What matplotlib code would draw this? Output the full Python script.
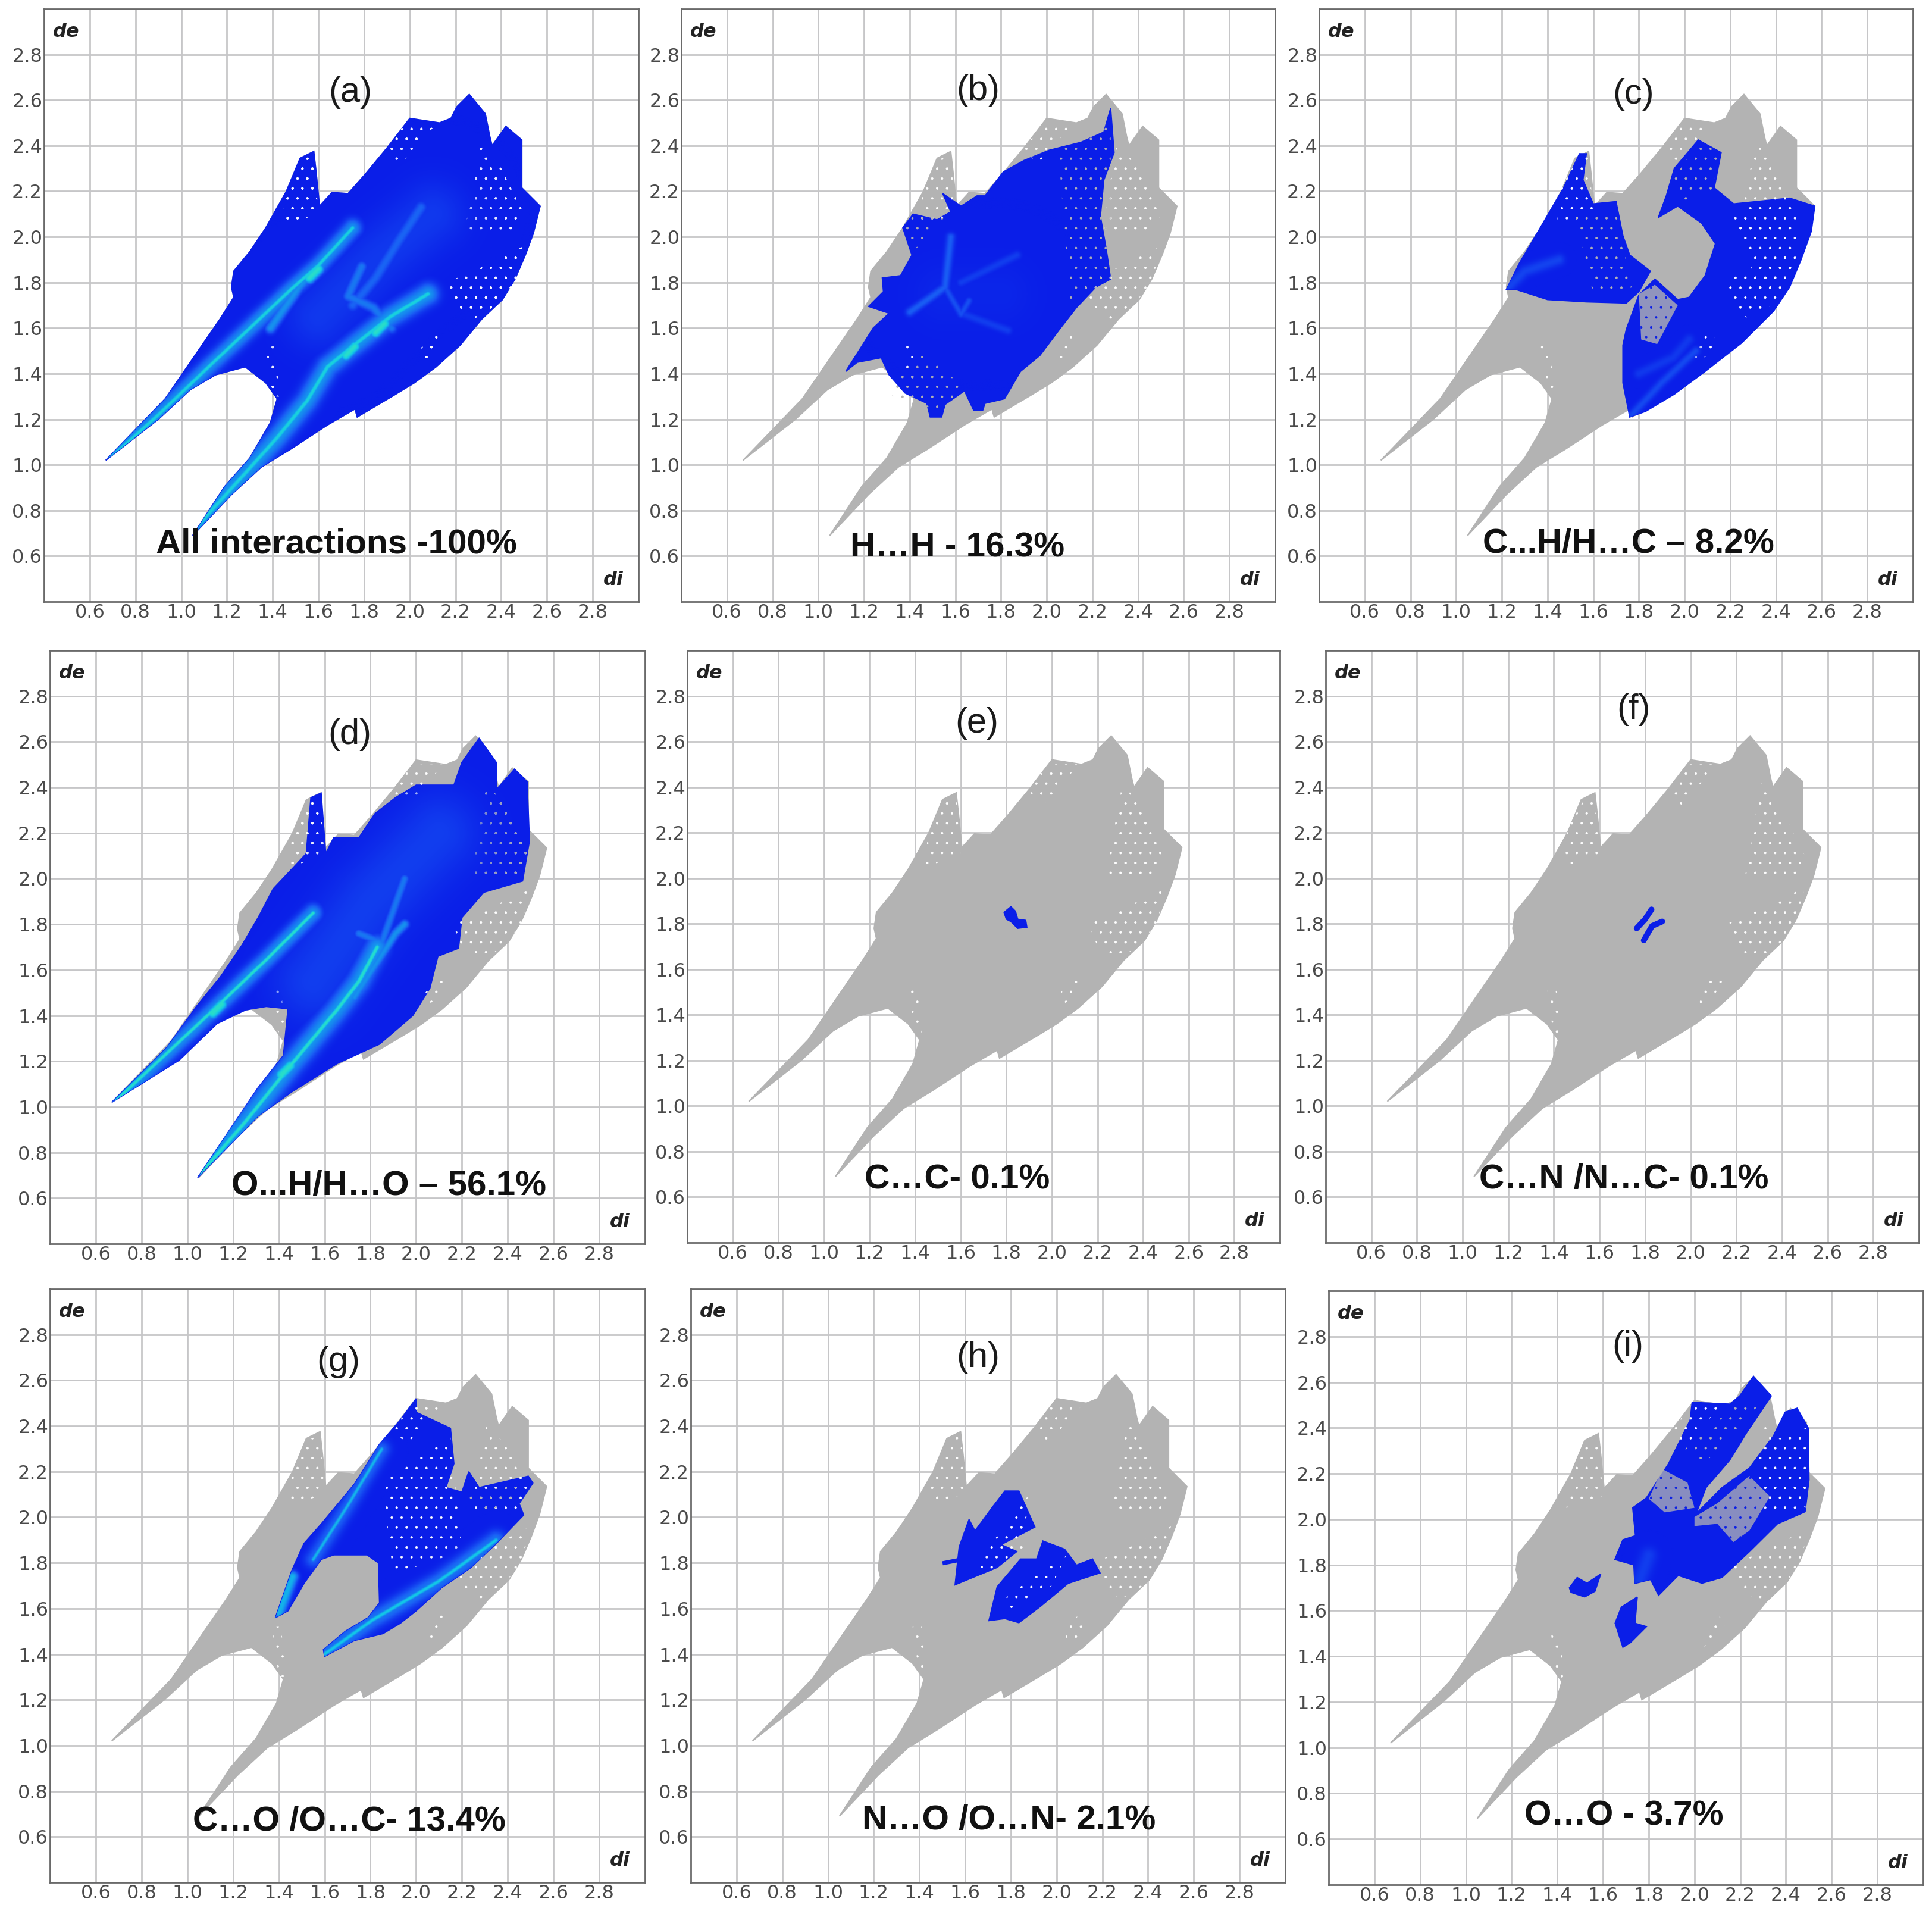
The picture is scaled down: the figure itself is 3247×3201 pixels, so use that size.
"""Hirshfeld fingerprint plots (di vs de) for nine contact types, writes out.png."""

from __future__ import annotations

import matplotlib

matplotlib.use("Agg")
import matplotlib.pyplot as plt  # noqa: E402
import numpy as np  # noqa: E402
from matplotlib.colors import LinearSegmentedColormap  # noqa: E402
from matplotlib.patches import Polygon  # noqa: E402

WIDTH, HEIGHT = 3247, 3201
TICKS = [0.6, 0.8, 1.0, 1.2, 1.4, 1.6, 1.8, 2.0, 2.2, 2.4, 2.6, 2.8]

GREY = "#b3b3b3"
BLUE = "#0a1ee8"
HEAT = LinearSegmentedColormap.from_list("heat", ["#0a1ee8", "#1a5cf5", "#12c8e8", "#3cf0b0"])

# full fingerprint outline
OUTLINE_X = [0.67, 0.93, 1.06, 1.17, 1.23, 1.22, 1.23, 1.30, 1.37, 1.46, 1.52, 1.58, 1.59, 1.605,
             1.66, 1.73, 1.805, 1.90, 2.00, 2.13, 2.18, 2.205, 2.26, 2.33, 2.35, 2.36, 2.42, 2.49,
             2.49, 2.57, 2.54, 2.505, 2.46, 2.405, 2.315, 2.22, 2.115, 2.02, 1.93, 1.77, 1.76,
             1.64, 1.48, 1.35, 1.22, 1.05, 1.19, 1.30, 1.39, 1.42, 1.37, 1.28, 1.15, 1.04, 0.90]
OUTLINE_Y = [1.02, 1.29, 1.48, 1.64, 1.735, 1.78, 1.85, 1.935, 2.04, 2.20, 2.345, 2.375, 2.285, 2.135,
             2.195, 2.19, 2.275, 2.39, 2.52, 2.50, 2.52, 2.57, 2.625, 2.54, 2.44, 2.40, 2.485, 2.425,
             2.215, 2.135, 2.015, 1.92, 1.815, 1.725, 1.64, 1.525, 1.43, 1.36, 1.305, 1.21, 1.245,
             1.175, 1.07, 0.99, 0.87, 0.69, 0.905, 1.03, 1.185, 1.29, 1.36, 1.43, 1.395, 1.33, 1.20]

# thinly populated parts of the fingerprint
SPARSE_WING = ([1.44, 1.46, 1.53, 1.58, 1.60], [2.05, 2.22, 2.34, 2.36, 2.10])
SPARSE_RIGHT = ([2.24, 2.27, 2.31, 2.40, 2.50, 2.46, 2.35], [2.02, 2.20, 2.42, 2.30, 2.10, 2.02, 2.02])
SPARSE_EDGE = ([2.16, 2.30, 2.50, 2.46, 2.38, 2.28, 2.20], [1.80, 1.86, 1.96, 1.80, 1.70, 1.64, 1.70])
SPARSE_TOP = ([1.90, 1.98, 2.12, 2.03, 1.96], [2.38, 2.50, 2.50, 2.40, 2.32])
SPARSE_LOW = ([2.04, 2.10, 2.14, 2.10, 2.04], [1.44, 1.48, 1.55, 1.58, 1.50])
SPARSE_NECK = ([1.37, 1.41, 1.43, 1.40], [1.52, 1.52, 1.30, 1.30])

# panel (a) density ridges and hot spots
A_RIDGE_1 = ([0.69, 0.90, 1.13, 1.30, 1.48, 1.60, 1.75], [1.03, 1.22, 1.44, 1.60, 1.77, 1.875, 2.04])
A_RIDGE_2 = ([1.06, 1.25, 1.42, 1.55, 1.64, 1.75, 1.915, 2.08], [0.72, 0.93, 1.12, 1.28, 1.43, 1.52, 1.65, 1.75])
A_RIDGE_3 = ([1.39, 1.515, 1.60], [1.60, 1.78, 1.875])
A_RIDGE_4 = ([1.79, 1.73, 1.84, 1.92], [1.87, 1.74, 1.69, 1.60])
A_RIDGE_6 = ([2.05, 1.95, 1.85, 1.75], [2.13, 1.98, 1.82, 1.70])
A_BROAD = ([1.60, 1.85, 2.10], [1.65, 1.90, 2.10])
A_HOT = ([1.58, 1.74, 1.87], [1.84, 1.50, 1.60])

# panel (b) H...H
B_X = [1.12, 1.19, 1.24, 1.31, 1.22, 1.285, 1.28, 1.36, 1.41, 1.40, 1.37, 1.415, 1.52, 1.58, 1.545, 1.625,
       1.695, 1.73, 1.81, 1.90, 2.01, 2.15, 2.25, 2.28, 2.295, 2.25, 2.235, 2.26, 2.28, 2.215, 2.13, 2.06,
       1.97, 1.885, 1.815, 1.73, 1.72, 1.68, 1.64, 1.555, 1.54, 1.49, 1.475, 1.38, 1.31, 1.275, 1.17]
B_Y = [1.41, 1.52, 1.60, 1.665, 1.695, 1.76, 1.82, 1.83, 1.92, 1.95, 2.04, 2.10, 2.075, 2.11, 2.19, 2.135,
       2.18, 2.18, 2.285, 2.335, 2.38, 2.415, 2.46, 2.565, 2.37, 2.25, 2.09, 1.95, 1.815, 1.78, 1.69, 1.60,
       1.48, 1.41, 1.29, 1.27, 1.24, 1.24, 1.325, 1.265, 1.21, 1.21, 1.27, 1.315, 1.395, 1.47, 1.45]
B_RIDGE_1 = ([1.58, 1.555, 1.40], [2.00, 1.78, 1.67])
B_RIDGE_2 = ([1.625, 1.87], [1.80, 1.92])
B_RIDGE_3 = ([1.625, 1.83], [1.665, 1.59])
B_RIDGE_4 = ([1.555, 1.625, 1.66], [1.78, 1.66, 1.72])

# panel (c) C...H/H...C
C_LEFT_X = [1.22, 1.277, 1.38, 1.47, 1.54, 1.57, 1.555, 1.60, 1.70, 1.73, 1.76, 1.85, 1.80, 1.745, 1.57, 1.40, 1.26]
C_LEFT_Y = [1.77, 1.885, 2.06, 2.215, 2.365, 2.365, 2.25, 2.145, 2.155, 2.005, 1.92, 1.85, 1.76, 1.71, 1.715, 1.725, 1.77]
C_RIGHT_X = [1.76, 1.73, 1.73, 1.745, 1.80, 1.87, 1.97, 2.02, 2.09, 2.135, 2.075, 1.97, 1.885, 1.92, 1.955, 2.06,
             2.16, 2.13, 2.215, 2.46, 2.57, 2.555, 2.51, 2.46, 2.39, 2.25, 2.09, 1.955, 1.83]
C_RIGHT_Y = [1.21, 1.36, 1.525, 1.595, 1.745, 1.815, 1.725, 1.735, 1.83, 1.97, 2.06, 2.135, 2.085, 2.18, 2.30, 2.425,
             2.37, 2.215, 2.145, 2.17, 2.135, 2.025, 1.90, 1.78, 1.675, 1.535, 1.41, 1.31, 1.235]
C_THIN_1 = ([1.80, 1.87, 1.97, 1.88, 1.81], [1.75, 1.79, 1.70, 1.53, 1.55])
C_THIN_2 = ([2.21, 2.50, 2.47, 2.33], [2.10, 2.02, 1.80, 1.75])
C_THIN_3 = ([1.52, 1.70, 1.72, 1.78, 1.60], [2.10, 2.12, 1.98, 1.78, 1.75])
C_THIN_4 = ([1.95, 2.06, 2.15, 2.12, 2.00], [2.25, 2.42, 2.37, 2.20, 2.16])
C_RIDGE_1 = ([1.23, 1.30, 1.45], [1.78, 1.85, 1.90])
C_RIDGE_2 = ([1.77, 1.90, 2.05], [1.22, 1.36, 1.50])
C_RIDGE_3 = ([1.80, 1.95, 2.02], [1.40, 1.47, 1.55])

# panel (d) O...H/H...O
D_X = [0.67, 0.91, 1.04, 1.145, 1.24, 1.31, 1.375, 1.455, 1.52, 1.54, 1.585, 1.605, 1.64, 1.75, 1.82, 1.91, 2.00,
       2.165, 2.20, 2.275, 2.35, 2.35, 2.43, 2.485, 2.495, 2.465, 2.295, 2.20, 2.185, 2.095, 2.06, 1.985, 1.84,
       1.655, 1.455, 1.31, 1.045, 1.31, 1.42, 1.44, 1.345, 1.255, 1.13, 0.965]
D_Y = [1.02, 1.26, 1.44, 1.57, 1.71, 1.83, 1.955, 2.04, 2.11, 2.355, 2.375, 2.11, 2.18, 2.18, 2.285, 2.355, 2.41,
       2.41, 2.51, 2.615, 2.51, 2.39, 2.48, 2.425, 2.165, 1.99, 1.94, 1.83, 1.695, 1.66, 1.52, 1.40, 1.275,
       1.19, 1.065, 0.96, 0.69, 1.085, 1.225, 1.43, 1.44, 1.425, 1.365, 1.205]
D_RIDGE_1 = ([0.69, 1.13, 1.35, 1.55], [1.03, 1.44, 1.65, 1.85])
D_RIDGE_2 = ([1.06, 1.25, 1.45, 1.65, 1.75, 1.83], [0.71, 0.93, 1.18, 1.42, 1.55, 1.70])
D_RIDGE_3 = ([1.73, 1.91, 1.95], [1.48, 1.76, 1.80])
D_RIDGE_4 = ([1.75, 1.85, 1.95], [1.76, 1.72, 2.00])
D_BROAD = ([1.55, 1.80, 2.10], [1.55, 1.90, 2.20])
D_HOT = ([1.13, 1.43], [1.43, 1.16])

# panels (e) and (f), the two smallest contacts
E_X = [1.79, 1.82, 1.84, 1.85, 1.885, 1.89, 1.85, 1.82, 1.80]
E_Y = [1.85, 1.875, 1.855, 1.82, 1.815, 1.785, 1.78, 1.81, 1.82]
F_STROKE_1 = ([1.828, 1.80, 1.763], [1.863, 1.82, 1.78])
F_STROKE_2 = ([1.875, 1.83, 1.794], [1.81, 1.79, 1.727])

# panel (g) C...O/O...C
G_X = [1.385, 1.456, 1.51, 1.585, 1.73, 1.84, 1.93, 2.00, 2.00, 2.15, 2.165, 2.13, 2.20, 2.23, 2.275, 2.49, 2.51,
       2.45, 2.47, 2.35, 2.24, 2.11, 2.00, 1.93, 1.855, 1.73, 1.60, 1.595, 1.69, 1.79, 1.84, 1.835, 1.785, 1.64,
       1.585, 1.51, 1.44]
G_Y = [1.56, 1.765, 1.885, 1.97, 2.145, 2.32, 2.425, 2.52, 2.46, 2.39, 2.235, 2.13, 2.11, 2.20, 2.13, 2.18, 2.15,
       2.06, 2.01, 1.885, 1.78, 1.69, 1.59, 1.535, 1.49, 1.46, 1.39, 1.42, 1.50, 1.56, 1.625, 1.80, 1.835, 1.835,
       1.815, 1.71, 1.59]
G_THIN = ([2.20, 2.48, 2.44, 2.30], [2.10, 2.15, 2.06, 2.03])
G_RIDGE_1 = ([1.55, 1.70, 1.85], [1.815, 2.05, 2.30])
G_RIDGE_2 = ([1.40, 1.46], [1.58, 1.74])
G_RIDGE_3 = ([1.60, 1.81, 2.10, 2.35], [1.40, 1.55, 1.72, 1.90])

# panel (h) N...O/O...N
H_TOP_X = [1.556, 1.574, 1.617, 1.643, 1.72, 1.774, 1.835, 1.905, 1.757, 1.826, 1.74]
H_TOP_Y = [1.704, 1.87, 1.99, 1.94, 2.045, 2.115, 2.115, 1.957, 1.88, 1.85, 1.78]
H_LOW_X = [1.704, 1.74, 1.843, 1.913, 1.94, 2.035, 2.087, 2.157, 2.19, 2.05, 1.93, 1.835, 1.774]
H_LOW_Y = [1.547, 1.695, 1.817, 1.817, 1.896, 1.86, 1.79, 1.817, 1.756, 1.71, 1.61, 1.538, 1.556]
H_TAIL = ([1.51, 1.56], [1.80, 1.81])

# panel (i) O...O
I_SPOT_X = [1.453, 1.487, 1.53, 1.59, 1.565, 1.52, 1.46]
I_SPOT_Y = [1.70, 1.745, 1.72, 1.76, 1.685, 1.66, 1.68]
I_LOW_X = [1.687, 1.653, 1.68, 1.75, 1.74, 1.79, 1.72]
I_LOW_Y = [1.44, 1.545, 1.615, 1.66, 1.545, 1.53, 1.46]
I_MAIN_X = [1.739, 1.735, 1.652, 1.687, 1.742, 1.73, 1.79, 1.886, 1.981, 1.99, 2.155, 2.198, 2.258, 2.336, 2.224,
            2.155, 2.05, 2.007, 2.12, 2.241, 2.345, 2.397, 2.449, 2.498, 2.501, 2.484, 2.363, 2.241, 2.12, 2.033,
            1.929, 1.843, 1.808]
I_MAIN_Y = [1.719, 1.80, 1.824, 1.91, 1.928, 2.05, 2.094, 2.242, 2.434, 2.512, 2.504, 2.54, 2.626, 2.54, 2.373,
            2.26, 2.138, 2.024, 2.138, 2.225, 2.364, 2.469, 2.486, 2.399, 2.172, 2.033, 1.98, 1.859, 1.745, 1.72,
            1.754, 1.667, 1.736]
I_GAP_1 = ([2.00, 2.10, 2.24, 2.33, 2.24, 2.17, 2.10, 2.00], [2.01, 2.07, 2.19, 2.10, 1.95, 1.90, 1.98, 1.97])
I_GAP_2 = ([1.80, 1.86, 1.97, 2.00, 1.87], [2.09, 2.22, 2.16, 2.05, 2.03])

LETTERS = ["(a)", "(b)", "(c)", "(d)", "(e)", "(f)", "(g)", "(h)", "(i)"]
LETTER_X = [1.74, 1.70, 1.777, 1.71, 1.67, 1.75, 1.66, 1.657, 1.709]
LETTER_Y = [2.634, 2.64, 2.625, 2.63, 2.68, 2.74, 2.68, 2.70, 2.756]
CAPTIONS = ["All interactions -100%", "H…H - 16.3%", "C...H/H…C – 8.2%",
            "O...H/H…O – 56.1%", "C…C- 0.1%", "C…N /N…C- 0.1%",
            "C…O /O…C- 13.4%", "N…O /O…N- 2.1%", "O…O - 3.7%"]
CAPTION_X = [1.68, 1.61, 1.755, 1.88, 1.584, 1.708, 1.708, 1.791, 1.692]
CAPTION_Y = [0.652, 0.635, 0.652, 0.652, 0.676, 0.676, 0.667, 0.67, 0.70]

# left, top, right, bottom of each frame in pixels
BOXES = [(74, 15, 1073, 1011), (1145, 15, 2143, 1011), (2217, 15, 3215, 1011),
         (84, 1093, 1084, 2090), (1155, 1093, 2151, 2088), (2228, 1093, 3225, 2088),
         (84, 2166, 1084, 3163), (1161, 2166, 2160, 3163), (2233, 2169, 3232, 3167)]

GRID = np.linspace(0.4, 3.0, 780)


def ridge_field(line, width, strength):
    """Soft band of density along one polyline, on the plot grid."""
    gx, gy = np.meshgrid(GRID, GRID)
    x, y = np.asarray(line[0]), np.asarray(line[1])
    best = np.full(gx.shape, np.inf)
    for x0, y0, x1, y1 in zip(x[:-1], y[:-1], x[1:], y[1:]):
        dx, dy = x1 - x0, y1 - y0
        t = np.clip(((gx - x0) * dx + (gy - y0) * dy) / (dx * dx + dy * dy), 0, 1)
        best = np.minimum(best, np.hypot(gx - (x0 + t * dx), gy - (y0 + t * dy)))
    return strength * np.exp(-((best / width) ** 2))


def heat(ax, clip_x, clip_y, ridges):
    field = np.zeros((GRID.size, GRID.size))
    for line, width, strength in ridges:
        field = np.maximum(field, ridge_field(line, width, strength))
    rgba = HEAT(field)
    rgba[..., 3] = np.clip(field * 3, 0, 1)
    image = ax.imshow(rgba, extent=(0.4, 3.0, 0.4, 3.0), origin="lower", aspect="auto",
                      interpolation="bilinear", zorder=5)
    image.set_clip_path(Polygon(np.column_stack([clip_x, clip_y]), transform=ax.transData))


def spots(xs, ys):
    """Short dabs for hot spots, returned in the same form as ridges."""
    return [(([x - 0.02, x + 0.02], [y - 0.02, y + 0.02]), 0.028, 0.85) for x, y in zip(xs, ys)]


def blue(ax, x, y):
    ax.fill(x, y, color=BLUE, lw=1.5, zorder=3)


def thin(ax, region, color):
    """Dot pattern for the thinly populated parts."""
    ax.fill(region[0], region[1], fill=False, hatch=".", edgecolor=color, lw=0, zorder=4)


def draw_a(ax):
    blue(ax, OUTLINE_X, OUTLINE_Y)
    for region in (SPARSE_WING, SPARSE_RIGHT, SPARSE_EDGE, SPARSE_TOP, SPARSE_LOW, SPARSE_NECK):
        thin(ax, region, "white")
    ridges = [(A_BROAD, 0.2, 0.22), (A_RIDGE_1, 0.05, 0.5), (A_RIDGE_1, 0.014, 0.75),
              (A_RIDGE_2, 0.06, 0.52), (A_RIDGE_2, 0.016, 0.75), (A_RIDGE_3, 0.03, 0.5),
              (A_RIDGE_4, 0.03, 0.42), (A_RIDGE_6, 0.035, 0.36)]
    heat(ax, OUTLINE_X, OUTLINE_Y, ridges + spots(*A_HOT))


def draw_b(ax):
    blue(ax, B_X, B_Y)
    thin(ax, ([1.37, 1.42, 1.55, 1.43], [2.02, 2.10, 2.08, 1.95]), GREY)
    thin(ax, ([1.30, 1.45, 1.65, 1.55], [1.31, 1.50, 1.33, 1.23]), GREY)
    thin(ax, ([2.05, 2.28, 2.28, 2.10], [2.40, 2.50, 1.80, 1.72]), GREY)
    heat(ax, B_X, B_Y, [(B_RIDGE_1, 0.025, 0.34), (B_RIDGE_2, 0.025, 0.24), (B_RIDGE_3, 0.025, 0.24),
                        (B_RIDGE_4, 0.02, 0.3), (([1.55, 1.80], [1.75, 1.75]), 0.2, 0.12)])


def draw_c(ax):
    blue(ax, C_LEFT_X, C_LEFT_Y)
    blue(ax, C_RIGHT_X, C_RIGHT_Y)
    ax.fill(C_THIN_1[0], C_THIN_1[1], color=GREY, alpha=0.8, lw=0, zorder=3)
    thin(ax, C_THIN_1, BLUE)
    thin(ax, C_THIN_2, "white")
    thin(ax, C_THIN_3, GREY)
    thin(ax, C_THIN_4, GREY)
    heat(ax, C_LEFT_X, C_LEFT_Y, [(C_RIDGE_1, 0.035, 0.26)])
    heat(ax, C_RIGHT_X, C_RIGHT_Y, [(C_RIDGE_2, 0.025, 0.28), (C_RIDGE_3, 0.03, 0.22)])


def draw_d(ax):
    blue(ax, D_X, D_Y)
    thin(ax, SPARSE_RIGHT, GREY)
    thin(ax, SPARSE_WING, "white")
    ridges = [(D_BROAD, 0.25, 0.24), (D_RIDGE_1, 0.05, 0.5), (D_RIDGE_1, 0.012, 0.85),
              (D_RIDGE_2, 0.065, 0.52), (D_RIDGE_2, 0.014, 0.85), (D_RIDGE_3, 0.025, 0.5),
              (D_RIDGE_4, 0.025, 0.42)]
    heat(ax, D_X, D_Y, ridges + spots(*D_HOT))


def draw_e(ax):
    blue(ax, E_X, E_Y)


def draw_f(ax):
    for line in (F_STROKE_1, F_STROKE_2):
        ax.plot(line[0], line[1], color=BLUE, lw=7, solid_capstyle="round", zorder=3)


def draw_g(ax):
    blue(ax, G_X, G_Y)
    thin(ax, G_THIN, GREY)
    thin(ax, ([1.85, 2.15, 2.20, 1.90], [2.15, 2.35, 1.85, 1.75]), "white")
    ridges = [(G_RIDGE_1, 0.05, 0.36), (G_RIDGE_1, 0.012, 0.62), (G_RIDGE_2, 0.03, 0.6),
              (G_RIDGE_3, 0.055, 0.42), (G_RIDGE_3, 0.014, 0.68)]
    heat(ax, G_X, G_Y, ridges)


def draw_h(ax):
    blue(ax, H_TOP_X, H_TOP_Y)
    blue(ax, H_LOW_X, H_LOW_Y)
    ax.plot(H_TAIL[0], H_TAIL[1], color=BLUE, lw=5, zorder=3)
    thin(ax, ([1.65, 1.88, 1.85, 1.70], [1.80, 2.10, 1.85, 1.75]), "white")
    thin(ax, ([1.78, 2.05, 1.98, 1.80], [1.65, 1.85, 1.70, 1.60]), "white")


def draw_i(ax):
    blue(ax, I_SPOT_X, I_SPOT_Y)
    blue(ax, I_LOW_X, I_LOW_Y)
    blue(ax, I_MAIN_X, I_MAIN_Y)
    for region in (I_GAP_1, I_GAP_2):
        ax.fill(region[0], region[1], color=GREY, alpha=0.75, lw=0, zorder=3)
        thin(ax, region, BLUE)
    thin(ax, ([1.95, 2.18, 2.30, 2.05], [2.30, 2.50, 2.52, 2.25]), GREY)
    thin(ax, ([2.36, 2.49, 2.49, 2.30], [2.35, 2.40, 2.05, 2.10]), "white")
    heat(ax, I_MAIN_X, I_MAIN_Y, [(([1.76, 1.80], [1.73, 1.84]), 0.05, 0.24)])


def main() -> int:
    plt.rcParams["hatch.linewidth"] = 0.5
    fig = plt.figure(figsize=(WIDTH / 100, HEIGHT / 100), dpi=100)
    painters = [draw_a, draw_b, draw_c, draw_d, draw_e, draw_f, draw_g, draw_h, draw_i]

    for i, (left, top, right, bottom) in enumerate(BOXES):
        ax = fig.add_axes([left / WIDTH, 1 - bottom / HEIGHT, (right - left) / WIDTH, (bottom - top) / HEIGHT])
        ax.set_xticks(TICKS, [f"{t:.1f}" for t in TICKS])
        ax.set_yticks(TICKS, [f"{t:.1f}" for t in TICKS])
        ax.tick_params(length=0, labelsize=23, labelcolor="#4a4a4a", pad=2)
        ax.grid(True, color="#c6c6c8", lw=2)
        ax.set_axisbelow(True)
        for spine in ax.spines.values():
            spine.set_color("#6a6a6a")
            spine.set_linewidth(2)

        # grey base shared by every panel
        ax.fill(OUTLINE_X, OUTLINE_Y, color=GREY, lw=1.5, zorder=2)
        for region in (SPARSE_WING, SPARSE_RIGHT, SPARSE_EDGE, SPARSE_TOP, SPARSE_LOW, SPARSE_NECK):
            thin(ax, region, "white")
        painters[i](ax)
        ax.set_xlim(0.4, 3.0)
        ax.set_ylim(0.4, 3.0)

        ax.text(0.496, 2.90, "de", family="DejaVu Sans", style="italic", weight="bold",
                fontsize=23, color="#222222", ha="center", va="center", zorder=8)
        ax.text(2.89, 0.495, "di", family="DejaVu Sans", style="italic", weight="bold",
                fontsize=23, color="#222222", ha="center", va="center", zorder=8)
        ax.text(LETTER_X[i], LETTER_Y[i], LETTERS[i], family="Liberation Sans", fontsize=43,
                color="#1a1a1a", ha="center", va="center", zorder=8)
        ax.text(CAPTION_X[i], CAPTION_Y[i], CAPTIONS[i], family="Liberation Sans", weight="bold",
                fontsize=42, color="#111111", ha="center", va="center", zorder=8)

    fig.savefig("out.png", dpi=100)
    return 0


if __name__ == "__main__":
    raise SystemExit(main())
